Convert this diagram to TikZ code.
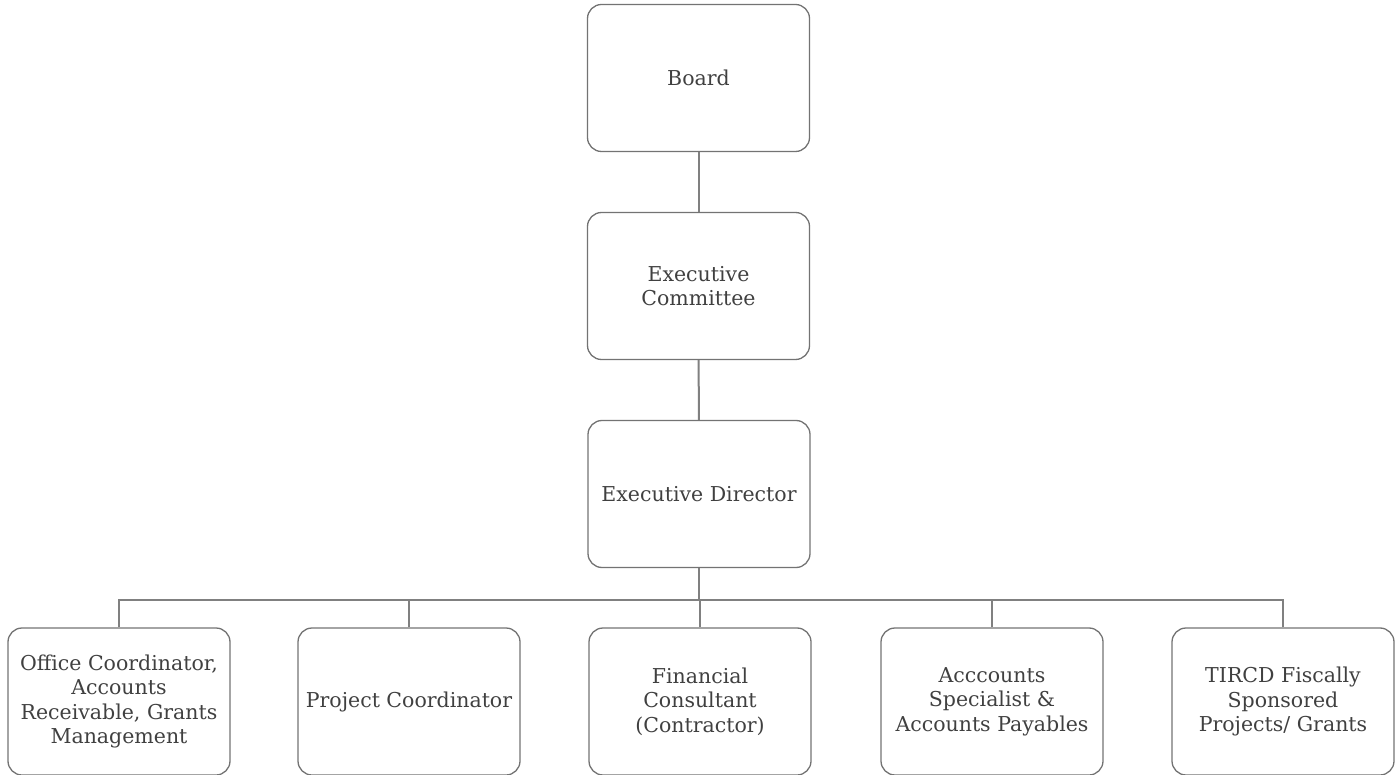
\documentclass[tikz,border=0pt]{standalone}
\usepackage{fontspec}
\setmainfont{DejaVu Serif}
\begin{document}
\begin{tikzpicture}[x=1pt,y=-1pt,
  box/.style={draw=black!55, line width=1.3pt, rounded corners=14pt, minimum width=222pt, minimum height=147pt, align=center, text=black!75, font=\fontsize{20.5}{24.5}\selectfont, inner sep=0pt},
  conn/.style={draw=black!50, line width=2pt}]
\useasboundingbox (0,0) rectangle (1400,775);
\node[box] (board) at (698.5,78) {Board};
\node[box] (ec) at (698.5,286) {Executive\\Committee};
\node[box] (ed) at (699,494) {Executive Director};
\node[box] (b1) at (119,701.5) {Office Coordinator,\\Accounts\\Receivable, Grants\\Management};
\node[box] (b2) at (409,701.5) {Project Coordinator};
\node[box] (b3) at (700,701.5) {Financial\\Consultant\\(Contractor)};
\node[box] (b4) at (992,701.5) {Acccounts\\Specialist \&\\Accounts Payables};
\node[box] (b5) at (1283,701.5) {TIRCD Fiscally\\Sponsored\\Projects/ Grants};
\coordinate (j) at (699,600);
\draw[conn] (board) -- (ec);
\draw[conn] (ec) -- (ed);
\draw[conn] (ed.south) -- (j);
\draw[conn] (b1.north) |- (j);
\draw[conn] (b5.north) |- (j);
\draw[conn] (b2.north) -- (b2.north |- j);
\draw[conn] (b3.north) -- (b3.north |- j);
\draw[conn] (b4.north) -- (b4.north |- j);
\end{tikzpicture}
\end{document}
